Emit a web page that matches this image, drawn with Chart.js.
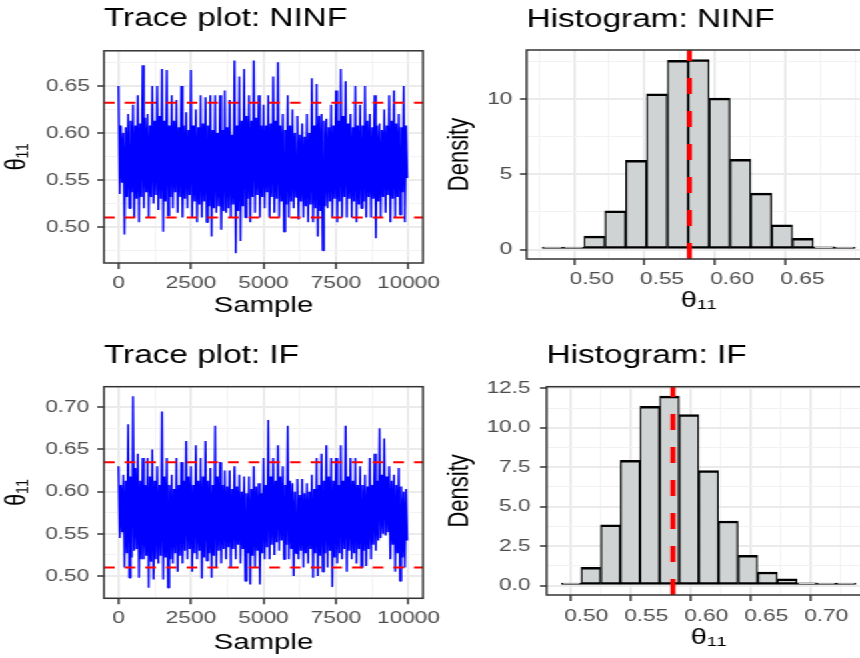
<!DOCTYPE html>
<html>
<head>
<meta charset="utf-8">
<script src="https://cdn.jsdelivr.net/npm/chart.js@4.4.0/dist/chart.umd.min.js"></script>
<style>
  html, body { margin: 0; padding: 0; background: #fff; overflow: hidden; }
  /* the picture is stretched sideways, so the charts are drawn narrow and widened */
  #page { position: absolute; left: 0; top: 0; width: 645px; height: 658px; transform: scaleX(1.3333); transform-origin: 0 0; }
  canvas { position: absolute; }
</style>
</head>
<body>
<div id="page">
  <canvas id="traceNinf" width="345" height="330" style="left:0;top:0"></canvas>
  <canvas id="histNinf" width="330" height="330" style="left:322.5px;top:0"></canvas>
  <canvas id="traceIf" width="345" height="328" style="left:0;top:330px"></canvas>
  <canvas id="histIf" width="330" height="328" style="left:322.5px;top:330px"></canvas>
</div>
<script>
// trace plots, read column by column (60 columns over the 10000 samples)
// spike tops, spike bottoms, and the edges of the solid band
const ninfPeaks = [0.65,0.60,0.62,0.63,0.64,0.672,0.62,0.65,0.65,0.668, 0.667,0.64,0.635,0.65,0.622,0.667,0.625,0.64,0.638,0.64,
  0.64,0.64,0.645,0.635,0.677,0.66,0.668,0.64,0.677,0.64, 0.63,0.64,0.66,0.675,0.62,0.64,0.625,0.618,0.61,0.62,
  0.658,0.652,0.62,0.615,0.63,0.645,0.668,0.655,0.62,0.65, 0.63,0.65,0.62,0.64,0.61,0.625,0.64,0.645,0.62,0.65]
const ninfTroughs = [0.535,0.492,0.52,0.51,0.505,0.52,0.51,0.525,0.518,0.495, 0.512,0.52,0.515,0.51,0.52,0.51,0.505,0.51,0.505,0.49,
  0.515,0.497,0.515,0.51,0.472,0.485,0.51,0.505,0.515,0.51, 0.52,0.51,0.515,0.51,0.495,0.51,0.52,0.508,0.51,0.505,
  0.505,0.49,0.475,0.52,0.51,0.505,0.51,0.51,0.51,0.505, 0.52,0.51,0.51,0.488,0.51,0.515,0.505,0.51,0.513,0.505]
const ninfBandTop = [0.608,0.606,0.613,0.608,0.61,0.616,0.608,0.613,0.618,0.613, 0.608,0.613,0.606,0.608,0.603,0.608,0.606,0.61,0.608,0.603,
  0.60,0.603,0.606,0.598,0.608,0.613,0.618,0.613,0.616,0.608, 0.608,0.61,0.613,0.608,0.603,0.608,0.60,0.598,0.596,0.60,
  0.608,0.618,0.613,0.606,0.608,0.613,0.618,0.61,0.606,0.608, 0.608,0.613,0.606,0.608,0.603,0.608,0.613,0.61,0.606,0.608]
const ninfBandBottom = [0.547,0.532,0.537,0.53,0.532,0.537,0.532,0.534,0.53,0.527, 0.532,0.537,0.532,0.53,0.534,0.527,0.524,0.527,0.522,0.52,
  0.522,0.517,0.52,0.524,0.517,0.522,0.53,0.532,0.534,0.532, 0.537,0.532,0.53,0.527,0.524,0.527,0.532,0.527,0.522,0.524,
  0.52,0.517,0.522,0.527,0.53,0.527,0.532,0.53,0.527,0.524, 0.527,0.532,0.53,0.527,0.532,0.534,0.53,0.532,0.537,0.552]

const ifPeaks = [0.63,0.62,0.68,0.713,0.645,0.64,0.64,0.65,0.63,0.695, 0.64,0.62,0.64,0.635,0.66,0.63,0.655,0.64,0.66,0.628,
  0.678,0.635,0.625,0.625,0.63,0.62,0.618,0.618,0.63,0.61, 0.64,0.685,0.64,0.655,0.63,0.678,0.61,0.615,0.615,0.61,
  0.62,0.64,0.645,0.655,0.64,0.64,0.655,0.678,0.64,0.64, 0.63,0.62,0.64,0.645,0.675,0.663,0.63,0.62,0.628,0.60]
const ifTroughs = [0.545,0.51,0.498,0.53,0.498,0.52,0.486,0.496,0.515,0.496, 0.486,0.515,0.505,0.515,0.52,0.505,0.52,0.497,0.518,0.498,
  0.51,0.515,0.52,0.51,0.52,0.515,0.494,0.49,0.51,0.49, 0.52,0.52,0.525,0.53,0.52,0.52,0.50,0.52,0.51,0.515,
  0.498,0.50,0.505,0.51,0.487,0.515,0.52,0.505,0.52,0.515, 0.51,0.512,0.52,0.53,0.545,0.548,0.52,0.505,0.494,0.51]
const ifBandTop = [0.608,0.613,0.618,0.628,0.613,0.608,0.618,0.613,0.608,0.618, 0.608,0.603,0.608,0.613,0.618,0.608,0.613,0.618,0.613,0.608,
  0.618,0.608,0.606,0.603,0.606,0.60,0.598,0.603,0.606,0.598, 0.608,0.618,0.613,0.618,0.608,0.613,0.60,0.596,0.598,0.60,
  0.603,0.608,0.613,0.618,0.613,0.608,0.613,0.618,0.613,0.608, 0.608,0.606,0.608,0.613,0.62,0.618,0.613,0.608,0.606,0.603]
const ifBandBottom = [0.552,0.527,0.522,0.532,0.52,0.524,0.517,0.52,0.524,0.522, 0.52,0.527,0.524,0.53,0.532,0.527,0.53,0.522,0.527,0.524,
  0.53,0.532,0.534,0.532,0.537,0.532,0.527,0.524,0.53,0.527, 0.534,0.537,0.54,0.542,0.537,0.532,0.527,0.53,0.527,0.532,
  0.527,0.524,0.527,0.53,0.522,0.527,0.532,0.53,0.527,0.532, 0.53,0.532,0.537,0.542,0.55,0.552,0.537,0.527,0.522,0.542]

const ninfQuantiles = [0.510, 0.632]
const ifQuantiles = [0.510, 0.635]

// histograms (15 bins, density)
const ninfBinMids = [0.4722,0.4871,0.5019,0.5168,0.5316,0.5464,0.5613,0.5761,0.5910,0.6058,0.6206,0.6355,0.6503,0.6652,0.6800]
const ninfDensity = [0.03,0.13,0.89,2.57,5.94,10.37,12.59,12.65,10.08,6.00,3.75,1.64,0.75,0.18,0.07]
const ninfMean = 0.5695
const ifBinMids = [0.4875,0.5038,0.5202,0.5366,0.5529,0.5693,0.5856,0.6020,0.6183,0.6347,0.6511,0.6674,0.6838,0.7001,0.7165]
const ifDensity = [0.13,1.15,3.84,7.93,11.36,12.00,10.83,7.28,4.09,1.91,0.86,0.42,0.17,0.04,0.10]
const ifMean = 0.5722

// axis ticks
const sampleTicks = [0,1250,2500,3750,5000,6250,7500,8750,10000]
const sampleMajors = [0,2500,5000,7500,10000]
const ninfThetaTicks = [0.475,0.5,0.525,0.55,0.575,0.6,0.625,0.65,0.675]
const ninfThetaMajors = [0.5,0.55,0.6,0.65]
const ifThetaTicks = [0.475,0.5,0.525,0.55,0.575,0.6,0.625,0.65,0.675,0.7]
const ifThetaMajors = [0.5,0.55,0.6,0.65,0.7]
const ifHistXTicks = [0.475,0.5,0.525,0.55,0.575,0.6,0.625,0.65,0.675,0.7,0.725]
const ninfDensTicks = [0,2.5,5,7.5,10,12.5]
const ninfDensMajors = [0,5,10]
const ifDensTicks = [0,1.25,2.5,3.75,5,6.25,7.5,8.75,10,11.25,12.5]
const ifDensMajors = [0,2.5,5,7.5,10,12.5]

const FONT = "'Liberation Sans', Arial, sans-serif"
const THETA = 'θ₁₁'

const isMajor = (v, majors) => majors.some(m => Math.abs(m - v) < 1e-9)

function axis(o) {
  return {
    type: 'linear', position: o.position, min: o.min, max: o.max, offset: false,
    afterBuildTicks: s => { s.ticks = o.ticks.map(v => ({ value: v })) },
    afterFit: s => {
      if (o.position === 'bottom') { s.height = o.size; s.paddingLeft = 0; s.paddingRight = 0 }
      else { s.width = o.size; s.paddingTop = 0; s.paddingBottom = 0 }
    },
    ticks: {
      autoSkip: false, minRotation: 0, maxRotation: 0, padding: o.pad,
      color: '#4D4D4D', font: { family: FONT, size: 17 },
      callback: v => isMajor(v, o.majors) ? o.fmt(v) : ''
    },
    grid: {
      color: c => c.tick && isMajor(c.tick.value, o.majors) ? '#EBEBEB' : '#F2F2F2',
      lineWidth: c => c.tick && isMajor(c.tick.value, o.majors) ? 2 : 1,
      tickColor: c => c.tick && isMajor(c.tick.value, o.majors) ? '#333333' : 'rgba(0,0,0,0)',
      tickLength: o.tickLen, tickWidth: 1.5
    },
    border: { display: false },
    title: { display: true, text: o.title, color: '#000', font: { family: FONT, size: 22 }, padding: o.titlePad }
  }
}

const panelBorder = {
  id: 'panelBorder',
  afterDraw(chart) {
    const { ctx, chartArea: a } = chart
    ctx.save()
    ctx.strokeStyle = '#333333'
    ctx.lineWidth = 1.5
    ctx.strokeRect(a.left, a.top, a.right - a.left, a.bottom - a.top)
    ctx.restore()
  }
}

function titleOpts(text, top, bottom) {
  return { display: true, text: text, align: 'start', fullSize: false, color: '#000',
    font: { family: FONT, size: 25, weight: 'normal' }, padding: { top: top, bottom: bottom } }
}

function tracePoints(peaks, troughs, bandTop, bandBottom) {
  const step = 10000 / peaks.length
  const pts = []
  peaks.forEach((p, i) => {
    const s = i * step
    pts.push({ x: s, y: p }, { x: s + step * 0.25, y: troughs[i] },
             { x: s + step * 0.5, y: bandTop[i] }, { x: s + step * 0.75, y: bandBottom[i] })
  })
  return pts
}

function traceChart(id, t) {
  const xMin = -500, xMax = 10500
  const hline = q => ({
    data: [{ x: xMin, y: q }, { x: xMax, y: q }],
    borderColor: '#FF0000', borderWidth: 2, borderDash: [8, 7.5], pointRadius: 0
  })
  return new Chart(document.getElementById(id).getContext('2d'), {
    type: 'line',
    data: {
      datasets: [
        hline(t.q[0]), hline(t.q[1]),
        { data: tracePoints(t.peaks, t.troughs, t.top, t.bottom), borderColor: '#0000FF', borderWidth: 1.5,
          pointRadius: 0, tension: 0, borderJoinStyle: 'bevel' }
      ]
    },
    options: {
      responsive: false, animation: false,
      layout: { padding: { left: 0, right: 345 - 317.25, top: 0, bottom: 0 } },
      plugins: { legend: { display: false }, tooltip: { enabled: false }, title: titleOpts(t.title, t.tTop, t.tBottom) },
      scales: {
        x: axis({ position: 'bottom', min: xMin, max: xMax, ticks: sampleTicks, majors: sampleMajors, fmt: v => String(v),
          size: t.xSize, pad: t.xPad, tickLen: 6, title: 'Sample', titlePad: { bottom: t.xTitlePad } }),
        y: axis({ position: 'left', min: t.yMin, max: t.yMax, ticks: t.yTicks, majors: t.yMajors, fmt: v => v.toFixed(2),
          size: 78, pad: t.yPad, tickLen: 5, title: THETA, titlePad: { top: 0 } })
      }
    },
    plugins: [panelBorder]
  })
}

function histChart(id, h) {
  return new Chart(document.getElementById(id).getContext('2d'), {
    type: 'bar',
    data: {
      datasets: [
        { type: 'line', order: 0, data: [{ x: h.mean, y: h.yMin }, { x: h.mean, y: h.yMax }],
          borderColor: '#FF0000', borderWidth: 3.75, borderDash: [16, 17], pointRadius: 0 },
        { order: 1, data: h.mids.map((m, i) => ({ x: m, y: h.dens[i] })),
          backgroundColor: '#CFD3D4', borderColor: '#000000',
          borderWidth: { top: 2.5, bottom: 2.5, left: 1.3, right: 1.3 }, borderSkipped: false,
          minBarLength: 2.5, barPercentage: 1, categoryPercentage: 1, grouped: false }
      ]
    },
    options: {
      responsive: false, animation: false,
      layout: { padding: 0 },
      plugins: { legend: { display: false }, tooltip: { enabled: false }, title: titleOpts(h.title, h.tTop, h.tBottom) },
      scales: {
        x: axis({ position: 'bottom', min: h.xMin, max: h.xMax, ticks: h.xTicks, majors: h.xMajors, fmt: v => v.toFixed(2),
          size: h.xSize, pad: h.xPad, tickLen: 6, title: THETA, titlePad: { bottom: h.xTitlePad } }),
        y: axis({ position: 'left', min: h.yMin, max: h.yMax, ticks: h.yTicks, majors: h.yMajors, fmt: h.yFmt,
          size: h.ySize, pad: h.yPad, tickLen: 5, title: 'Density', titlePad: { top: 9.2 } })
      }
    },
    plugins: [panelBorder]
  })
}

traceChart('traceNinf', {
  title: 'Trace plot: NINF', tTop: 3.8, tBottom: 17,
  peaks: ninfPeaks, troughs: ninfTroughs, top: ninfBandTop, bottom: ninfBandBottom, q: ninfQuantiles,
  yMin: 0.4617, yMax: 0.6873, yTicks: ninfThetaTicks, yMajors: ninfThetaMajors, yPad: 5.5,
  xSize: 67, xPad: 4.5, xTitlePad: 10.5
})

histChart('histNinf', {
  title: 'Histogram: NINF', tTop: 4.8, tBottom: 15.2,
  mids: ninfBinMids, dens: ninfDensity, mean: ninfMean,
  xMin: 0.4537, xMax: 0.6985, xTicks: ninfThetaTicks, xMajors: ninfThetaMajors, xSize: 71, xPad: 4.5, xTitlePad: 15.6,
  yMin: -0.63, yMax: 13.28, yTicks: ninfDensTicks, yMajors: ninfDensMajors, yFmt: v => String(v), ySize: 72, yPad: 5.7
})

traceChart('traceIf', {
  title: 'Trace plot: IF', tTop: 11.1, tBottom: 15.6,
  peaks: ifPeaks, troughs: ifTroughs, top: ifBandTop, bottom: ifBandBottom, q: ifQuantiles,
  yMin: 0.4736, yMax: 0.7244, yTicks: ifThetaTicks, yMajors: ifThetaMajors, yPad: 6,
  xSize: 59.7, xPad: 3.5, xTitlePad: 2.3
})

histChart('histIf', {
  title: 'Histogram: IF', tTop: 11.1, tBottom: 15.6,
  mids: ifBinMids, dens: ifDensity, mean: ifMean,
  xMin: 0.467, xMax: 0.737, xTicks: ifHistXTicks, xMajors: ifThetaMajors, xSize: 63, xPad: 5.2, xTitlePad: 6.9,
  yMin: -0.6, yMax: 12.6, yTicks: ifDensTicks, yMajors: ifDensMajors, yFmt: v => v.toFixed(1), ySize: 87, yPad: 7
})
</script>
</body>
</html>
